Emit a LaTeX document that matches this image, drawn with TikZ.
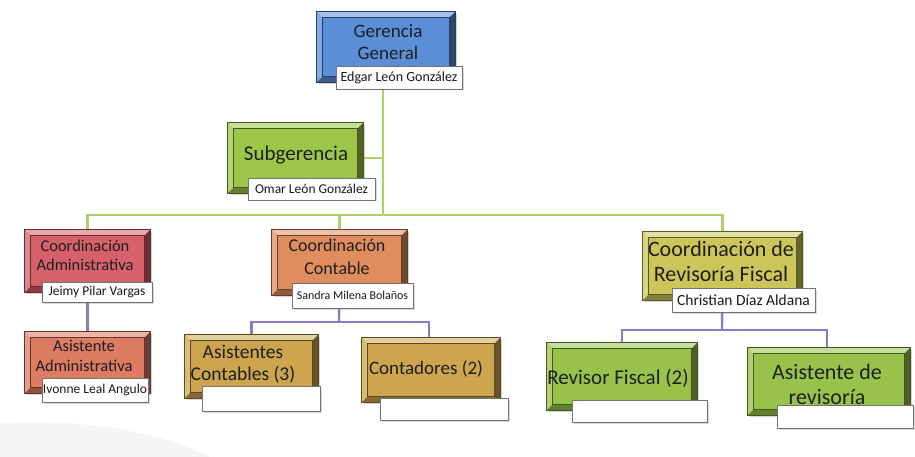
\documentclass[tikz,border=0pt]{standalone}
\usepackage{fontspec}
\setmainfont{Carlito}
\usetikzlibrary{shadows}
\definecolor{cG}{HTML}{5A8FD8}
\definecolor{cSub}{HTML}{9CC648}
\definecolor{cCA}{HTML}{D6616A}
\definecolor{cAA}{HTML}{DE7B63}
\definecolor{cCC}{HTML}{DF8D5E}
\definecolor{cAC}{HTML}{CDA54E}
\definecolor{cCR}{HTML}{CCC65A}
\definecolor{cRF}{HTML}{98C24A}
\definecolor{lgreen}{HTML}{ADD16A}
\definecolor{lpurple}{HTML}{8C7AC2}
\newcommand\fs[2]{\fontsize{#1}{#2}\selectfont}
\tikzset{
  orgbox/.style={draw=#1!45!black, line width=0.8pt, fill=#1, inner sep=0pt,
    drop shadow={opacity=0.35, shadow xshift=2pt, shadow yshift=-2pt}},
  namebox/.style={draw=black!55, line width=0.6pt, fill=white, inner sep=0pt,
    text=black!90,
    drop shadow={opacity=0.3, shadow xshift=1.5pt, shadow yshift=-1.5pt}},
  gline/.style={draw=lgreen, line width=2.4pt},
  pline/.style={draw=lpurple, line width=2.4pt},
  lbl/.style={align=center, text=black!88, inner sep=0pt}
}
% name, cx, cy, w, h, colour
\newcommand\mybevel[6]{%
  \node[orgbox=#6, minimum width=#4pt, minimum height=#5pt] (#1) at (#2,#3) {};
  \fill[#6!55!white] (#1.north west) -- (#1.north east) -- ([shift={(-6pt,-6pt)}]#1.north east) -- ([shift={(6pt,-6pt)}]#1.north west) -- cycle;
  \fill[#6!75!white] (#1.north west) -- (#1.south west) -- ([shift={(6pt,6pt)}]#1.south west) -- ([shift={(6pt,-6pt)}]#1.north west) -- cycle;
  \fill[#6!65!black] (#1.south west) -- (#1.south east) -- ([shift={(-6pt,6pt)}]#1.south east) -- ([shift={(6pt,6pt)}]#1.south west) -- cycle;
  \fill[#6!50!black] (#1.north east) -- (#1.south east) -- ([shift={(-6pt,6pt)}]#1.south east) -- ([shift={(-6pt,-6pt)}]#1.north east) -- cycle;
  \draw[#6!45!black, line width=0.6pt] ([shift={(6pt,-6pt)}]#1.north west) rectangle ([shift={(-6pt,6pt)}]#1.south east);
  \draw[#6!45!black, line width=0.8pt] (#1.north west) rectangle (#1.south east);
}
\begin{document}
\begin{tikzpicture}[x=1pt,y=-1pt]
\useasboundingbox (0,0) rectangle (915,457);
\fill[black!4] (0,423) .. controls (90,418) and (170,435) .. (210,457) -- (0,457) -- cycle;

% junction coordinates
\coordinate (jG) at (383,215);
\coordinate (jC) at (339,322);
\coordinate (jR) at (722,330);

\path (386,47) coordinate (pG) (295.5,158) coordinate (pSub)
      (87.5,261) coordinate (pCA) (87.5,362.5) coordinate (pAA)
      (339.5,262.5) coordinate (pCC) (251.5,366.5) coordinate (pAC)
      (429,370) coordinate (pCont) (722.5,266) coordinate (pCR)
      (622,376.5) coordinate (pRF) (827,381.5) coordinate (pAR);

% connectors
\draw[gline] (pG -| jG) -- (jG);
\draw[gline] (pSub) -- (pSub -| jG);
\draw[gline] (pCA) |- (jG) -| (pCR);
\draw[gline] (pCC) -- (pCC |- jG);
\draw[pline] (pCA) -- (pAA);
\draw[pline] (pCC) -- (jC);
\draw[pline] (pAC) |- (jC) -| (pCont);
\draw[pline] (pCR) -- (jR);
\draw[pline] (pRF) |- (jR) -| (pAR);

% Gerencia General
\mybevel{G}{386}{47}{138}{70}{cG}
\node[lbl, font=\fs{19}{22}] at (388,42) {Gerencia\\General};
\node[namebox, font=\fs{14}{15}, minimum width=126pt, minimum height=23pt] (nG) at (399,77.5) {Edgar León González};

% Subgerencia
\mybevel{Sub}{295.5}{158}{135}{70}{cSub}
\node[lbl, font=\fs{21}{23}] at (296,155) {Subgerencia};
\node[namebox, font=\fs{13.5}{15}, minimum width=127pt, minimum height=22pt] (nSub) at (311.5,189) {Omar León González};

% Coordinación Administrativa
\mybevel{CA}{87.5}{261}{125}{62}{cCA}
\node[lbl, font=\fs{16.5}{19}] at (85,255) {Coordinación\\Administrativa};
\node[namebox, font=\fs{13.5}{15}, minimum width=110pt, minimum height=20pt] (nCA) at (97,292) {Jeimy Pilar Vargas};

% Asistente Administrativa
\mybevel{AA}{87.5}{362.5}{125}{61}{cAA}
\node[lbl, font=\fs{16.5}{20}] at (84,356) {Asistente\\Administrativa};
\node[namebox, font=\fs{13.5}{15}, minimum width=106pt, minimum height=24pt] (nAA) at (95,390) {Ivonne Leal Angulo};

% Coordinación Contable
\mybevel{CC}{339.5}{262.5}{135}{65}{cCC}
\node[lbl, font=\fs{18}{23}] at (337,257) {Coordinación\\Contable};
\node[namebox, font=\fs{12}{14}, minimum width=121pt, minimum height=25pt] (nCC) at (352.5,295.5) {Sandra Milena Bolaños};

% Asistentes Contables
\mybevel{AC}{251.5}{366.5}{133}{63}{cAC}
\node[lbl, font=\fs{19.5}{22}] at (243,364) {Asistentes\\Contables (3)};
\node[namebox, minimum width=118pt, minimum height=25pt] (nAC) at (261,398.5) {};

% Contadores
\mybevel{Cont}{431}{370}{138}{64}{cAC}
\node[lbl, font=\fs{19}{21}] at (426,369) {Contadores (2)};
\node[namebox, minimum width=128pt, minimum height=22pt] (nCont) at (444,409) {};

% Coordinación de Revisoría Fiscal
\mybevel{CR}{722.5}{266}{159}{68}{cCR}
\node[lbl, font=\fs{22}{25}] at (721,261) {Coordinación de\\Revisoría Fiscal};
\node[namebox, font=\fs{15.5}{17}, minimum width=143pt, minimum height=24pt] (nCR) at (743.5,300) {Christian Díaz Aldana};

% Revisor Fiscal
\mybevel{RF}{622}{376.5}{150}{67}{cRF}
\node[lbl, font=\fs{21}{23}] at (618,378) {Revisor Fiscal (2)};
\node[namebox, minimum width=135pt, minimum height=22pt] (nRF) at (639.5,411) {};

% Asistente de revisoría
\mybevel{AR}{829}{381.5}{162}{67}{cRF}
\node[lbl, font=\fs{22}{25}] at (827,384) {Asistente de\\revisoría};
\node[namebox, minimum width=136pt, minimum height=23pt] (nAR) at (845,416.5) {};
\end{tikzpicture}
\end{document}
